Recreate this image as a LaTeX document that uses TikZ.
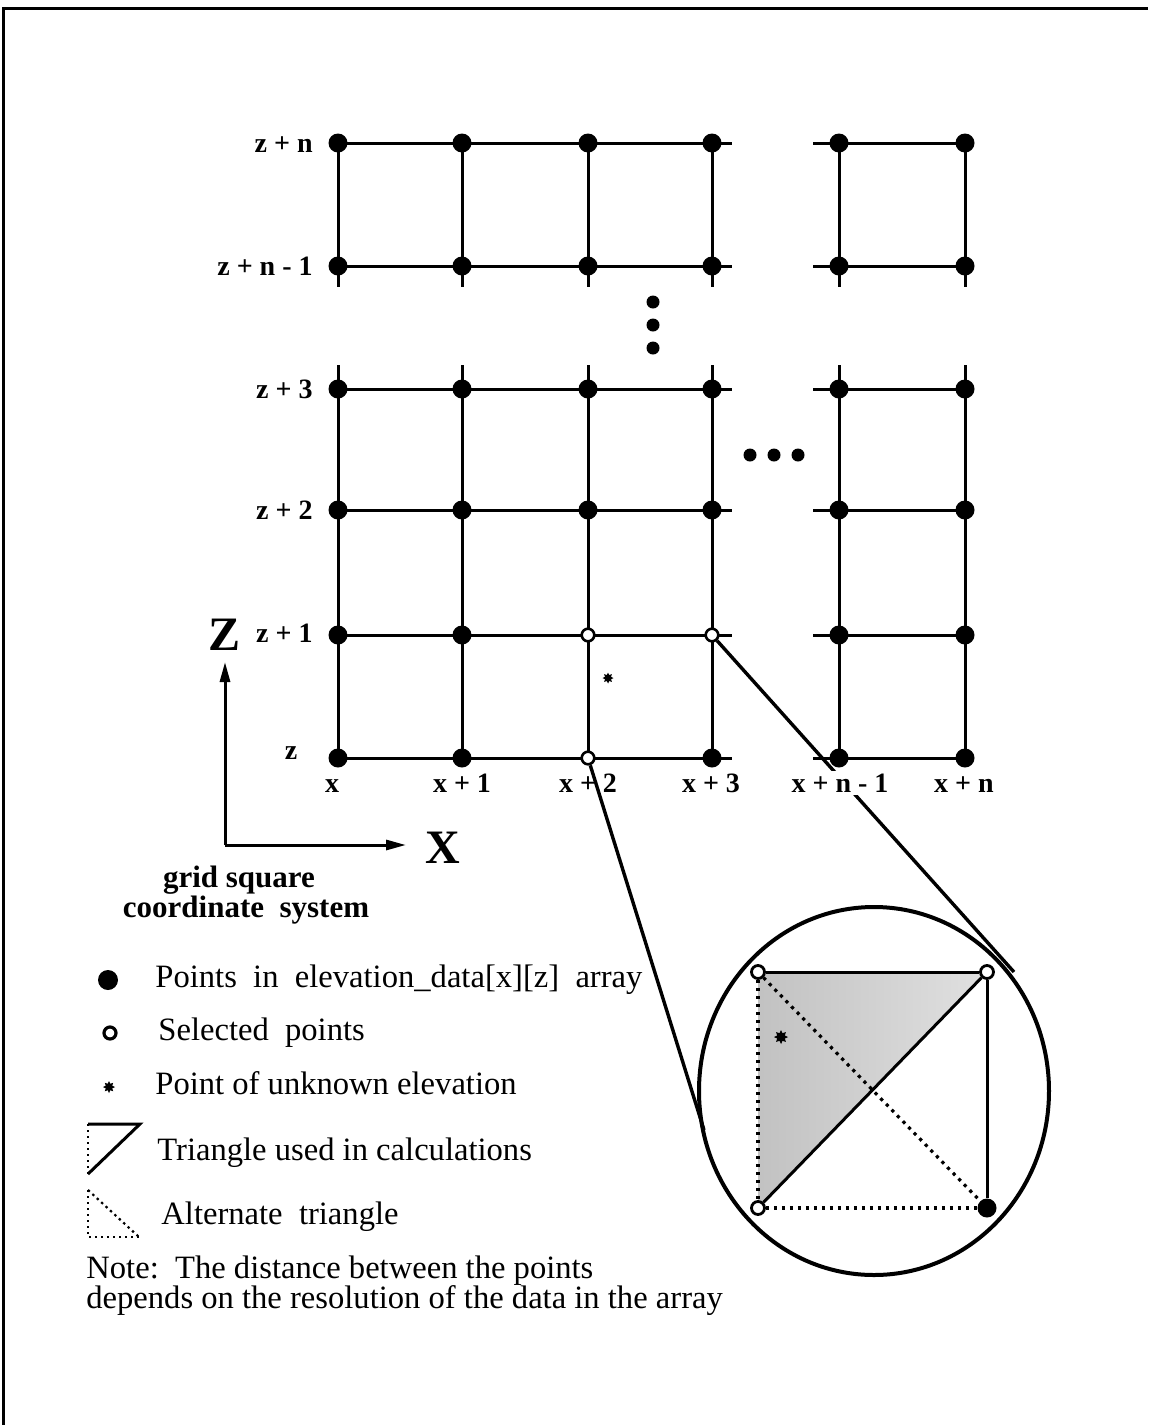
\documentclass[tikz,border=0pt]{standalone}
\usepackage{fontspec}
\setmainfont{Liberation Serif}
\usetikzlibrary{arrows.meta,shapes.geometric}
\begin{document}
\begin{tikzpicture}[x=0.5pt,y=-0.5pt,
  gl/.style={line width=1.5pt},
  conn/.style={line width=1.7pt},
  pt/.style={circle,fill=black,inner sep=0pt,minimum size=9.5pt},
  sel/.style={circle,fill=white,draw=black,line width=1.3pt,inner sep=0pt,minimum size=6.3pt},
  edot/.style={circle,fill=black,inner sep=0pt,minimum size=6.5pt},
  unk/.style={star,star points=8,star point ratio=1.7,fill=black,inner sep=0pt,minimum size=5.5pt},
  lbl/.style={font=\bfseries\fontsize{14}{14}\selectfont,inner sep=0pt,text height=9.3pt,text depth=0pt},
  big/.style={font=\bfseries\fontsize{24}{24}\selectfont,inner sep=0pt},
  captxt/.style={font=\bfseries\fontsize{15.5}{16}\selectfont,inner sep=0pt},
  leg/.style={font=\fontsize{16.3}{18}\selectfont,anchor=west,inner sep=0pt,text height=11pt,text depth=3.5pt},
  notetxt/.style={font=\fontsize{16.3}{18}\selectfont,anchor=west,inner sep=0pt,text height=11pt,text depth=3.5pt},
  sq/.style={line width=1.5pt},
  dts/.style={line width=1.6pt,dash pattern=on 1.6pt off 2.4pt},
  tdts/.style={line width=1.1pt,dash pattern=on 1.2pt off 1.8pt}
]
\useasboundingbox (0,0) rectangle (1148,1425);
% frame
\draw[line width=1.5pt] (3,1425) -- (3,8) -- (1148,8);

% upper block
\foreach \y in {143,266}{
  \draw[gl] (338,\y) -- (732,\y);
  \draw[gl] (813,\y) -- (965,\y);
}
\foreach \x in {338,462,588,712,839,965}
  \draw[gl] (\x,143) -- (\x,287);
% lower block
\foreach \y in {389,510,635,758}{
  \draw[gl] (338,\y) -- (732,\y);
  \draw[gl] (813,\y) -- (965,\y);
}
\foreach \x in {338,462,588,712,839,965}
  \draw[gl] (\x,365) -- (\x,758);

% ellipsis dots
\foreach \y in {302,325,348} \node[edot] (v\y) at (653,\y) {};
\foreach \x in {750,774,798} \node[edot] (h\x) at (\x,455) {};

% filled points
\foreach \y in {143,266,389,510}
  \foreach \x in {338,462,588,712,839,965}
    \node[pt] (p\x-\y) at (\x,\y) {};
\foreach \x in {338,462,839,965} \node[pt] (p\x-635) at (\x,635) {};
\foreach \x in {338,462,712,839,965} \node[pt] (p\x-758) at (\x,758) {};

% selected points
\node[sel] (s1) at (588,635) {};
\node[sel] (s2) at (712,635) {};
\node[sel] (s3) at (588,758) {};
\node[unk] (u1) at (608,678) {};

% magnifier
\node[draw,ellipse,line width=2pt,minimum width=175pt,minimum height=184pt,inner sep=0pt] (mag) at (874,1091) {};
\coordinate (cl) at (704,1130);
\coordinate (cr) at (1014,972);
\draw[conn] (s3) -- (cl);
\draw[conn] (s2) -- (cr);

\shade[left color=black!24,right color=black!12] (758,972) -- (987,972) -- (758,1208) -- cycle;
\node[sel,minimum size=6.5pt,line width=1.4pt] (TL) at (758,972) {};
\node[sel,minimum size=6.5pt,line width=1.4pt] (TR) at (987,972) {};
\node[sel,minimum size=6.5pt,line width=1.4pt] (BL) at (758,1208) {};
\node[pt] (BR) at (987,1208) {};
\draw[sq] (TL) -- (TR) -- (BR);
\draw[sq] (BL) -- (TR);
\draw[dts] (TL) -- (BL) -- (BR);
\draw[dts] (TL) -- (BR);
\node[unk,minimum size=7pt] (u2) at (781,1037) {};

% row labels
\node[lbl,anchor=east] (lzn) at (313,143) {z + n};
\node[lbl,anchor=east] (lzn1) at (313,266) {z + n - 1};
\node[lbl,anchor=east] (lz3) at (313,389) {z + 3};
\node[lbl,anchor=east] (lz2) at (313,510) {z + 2};
\node[lbl,anchor=east] (lz1) at (313,633) {z + 1};
\node[lbl] (lz) at (291,750) {z};
% column labels
\node[lbl] (lx) at (332,783) {x};
\node[lbl] (lx1) at (462,783) {x + 1};
\node[lbl] (lx2) at (588,783) {x + 2};
\node[lbl] (lx3) at (711,783) {x + 3};
\node[lbl,fill=white,inner sep=1.5pt] (lxn1) at (840,783) {x + n - 1};
\node[lbl] (lxn) at (964,783) {x + n};

% axes
\node[big] (Z) at (225,635) {Z};
\node[big] (X) at (443,848) {X};
\coordinate (o) at (225,845);
\draw[line width=1.5pt,-{Triangle[length=10pt,width=5pt]}] (o) -- (225,662);
\draw[line width=1.5pt,-{Triangle[length=10pt,width=5pt]}] (o) -- (406,845);
\node[captxt] (c1) at (239,880) {grid square};
\node[captxt] (c2) at (246,910) {coordinate\ \ system};

% legend
\node[pt,minimum size=10pt] (k1) at (108,980) {};
\node[leg] (t1) at (155,980) {Points\ \ in\ \ elevation\_data[x][z]\ \ array};
\node[sel,minimum size=6pt,line width=1.6pt] (k2) at (110,1033) {};
\node[leg] (t2) at (158,1033) {Selected\ \ points};
\node[unk,minimum size=6pt] (k3) at (109,1087) {};
\node[leg] (t3) at (155,1087) {Point of unknown elevation};
\draw[tdts] (88,1124) -- (88,1174);
\draw[line width=1.5pt,line join=miter] (88,1124) -- (140,1124) -- (88,1174);
\node[leg] (t4) at (157,1153) {Triangle used in calculations};
\draw[tdts] (88,1190) -- (88,1237) -- (139,1237);
\draw[tdts] (88,1190) -- (139,1237);
\node[leg] (t5) at (161,1217) {Alternate\ \ triangle};

% note
\node[notetxt] (n1) at (86,1271) {Note:\ \ The distance between the points};
\node[notetxt] (n2) at (86,1301) {depends on the resolution of the data in the array};
\end{tikzpicture}
\end{document}
